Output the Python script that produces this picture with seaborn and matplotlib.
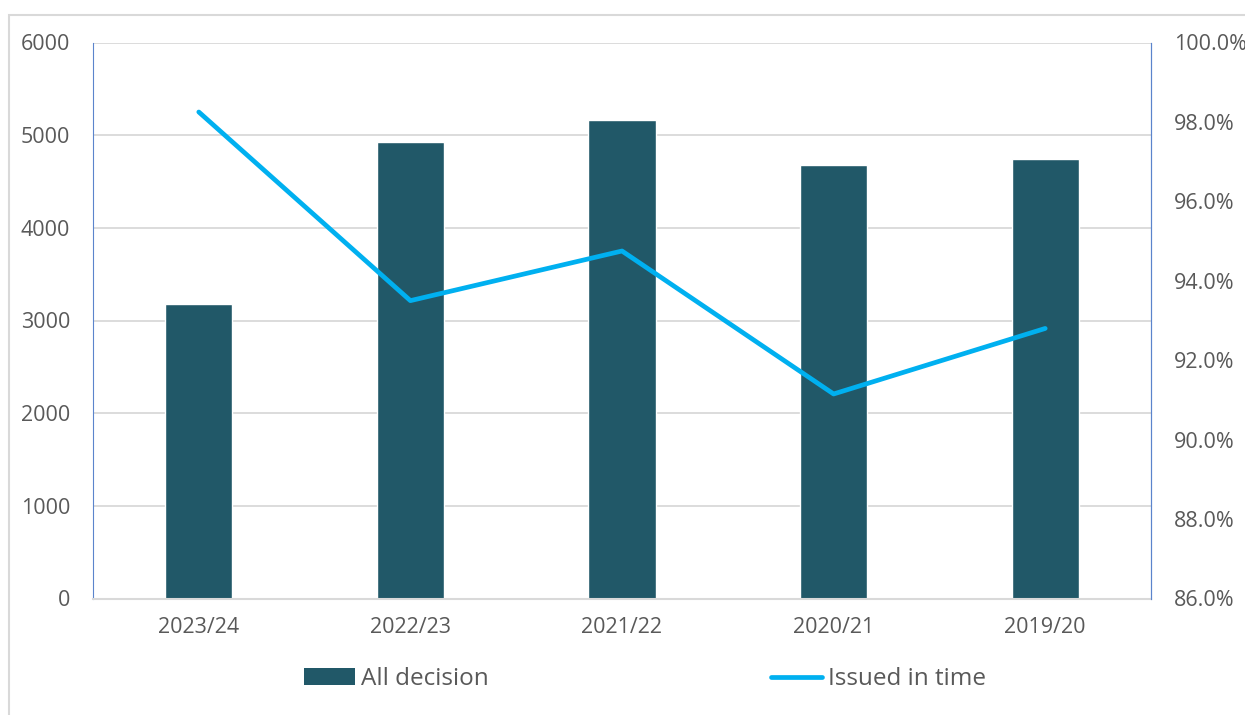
import numpy as np
import pandas as pd
import matplotlib
matplotlib.use("Agg")
import matplotlib.pyplot as plt
from matplotlib.ticker import PercentFormatter, MultipleLocator
from matplotlib.patches import Rectangle, Patch
from matplotlib.lines import Line2D
import seaborn as sns

# Annual figures
years = ["2023/24", "2022/23", "2021/22", "2020/21", "2019/20"]
all_decisions = [3175, 4925, 5165, 4680, 4745]
issued_in_time = [98.25, 93.5, 94.75, 91.15, 92.8]

BAR_COLOR = "#215868"
LINE_COLOR = "#00B0F0"
TEXT_COLOR = "#595959"
GRID_COLOR = "#D9D9D9"
AXIS_BLUE = "#5B84CC"

sns.set_theme(style="white")
plt.rcParams["font.family"] = ["Open Sans", "DejaVu Sans"]

df = pd.DataFrame({"year": years, "decisions": all_decisions,
                   "in_time": np.array(issued_in_time) / 100.0})
df["pos"] = np.arange(len(years))

W, H = 1245, 715
fig = plt.figure(figsize=(W / 100, H / 100), dpi=100)

# outer chart frame
fig.patches.append(Rectangle((9 / W, -0.1), 1.2, (H - 15) / H + 0.1,
                             transform=fig.transFigure, fill=False,
                             edgecolor=GRID_COLOR, linewidth=1.5))

ax = fig.add_axes([93 / W, 1 - 598.5 / H, (1151 - 93) / W, (598.5 - 42.5) / H])

sns.barplot(data=df, x="year", y="decisions", color=BAR_COLOR, width=0.317,
            saturation=1, ax=ax, zorder=2)
ax.set_ylim(0, 6000)
ax.set_xlim(-0.5, len(years) - 0.5)
ax.yaxis.set_major_locator(MultipleLocator(1000))
ax.grid(axis="y", color=GRID_COLOR, linewidth=1.3, zorder=0)
ax.set_axisbelow(True)
ax.set_xlabel("")
ax.set_ylabel("")
ax.tick_params(axis="y", length=0, pad=16.5, labelsize=15.5, labelcolor=TEXT_COLOR)
ax.tick_params(axis="x", length=0, pad=13, labelsize=15.5, labelcolor=TEXT_COLOR)
ax.spines["top"].set_visible(False)
ax.spines["left"].set_color(AXIS_BLUE)
ax.spines["left"].set_linewidth(0.8)
ax.spines["right"].set_color(AXIS_BLUE)
ax.spines["right"].set_linewidth(0.8)
ax.spines["bottom"].set_color(GRID_COLOR)
ax.spines["bottom"].set_linewidth(1.5)

ax2 = ax.twinx()
sns.lineplot(data=df, x="pos", y="in_time", color=LINE_COLOR, linewidth=3.4,
             sort=False, ax=ax2, solid_capstyle="round", solid_joinstyle="round")
ax2.set_ylim(0.86, 1.0)
ax2.yaxis.set_major_locator(MultipleLocator(0.02))
ax2.yaxis.set_major_formatter(PercentFormatter(1.0, decimals=1))
ax2.set_ylabel("")
ax2.set_xlabel("")
ax2.tick_params(axis="y", length=0, pad=16.5, labelsize=15.5, labelcolor=TEXT_COLOR)
for side in ["top", "left", "bottom"]:
    ax2.spines[side].set_visible(False)
ax2.spines["right"].set_color(AXIS_BLUE)
ax2.spines["right"].set_linewidth(0.8)

handles = [Patch(facecolor=BAR_COLOR, edgecolor="none"),
           Line2D([0], [0], color=LINE_COLOR, linewidth=3.4, solid_capstyle="round")]
fig.legend(handles, ["All decision", "Issued in time"], ncol=2,
           loc="center left", bbox_to_anchor=(304 / W, 1 - 679 / H),
           frameon=False, fontsize=17.5, labelcolor=TEXT_COLOR,
           handlelength=2.1, handleheight=0.65, handletextpad=0.25,
           columnspacing=11.6, borderaxespad=0, borderpad=0)

fig.savefig("out.png", dpi=100)
